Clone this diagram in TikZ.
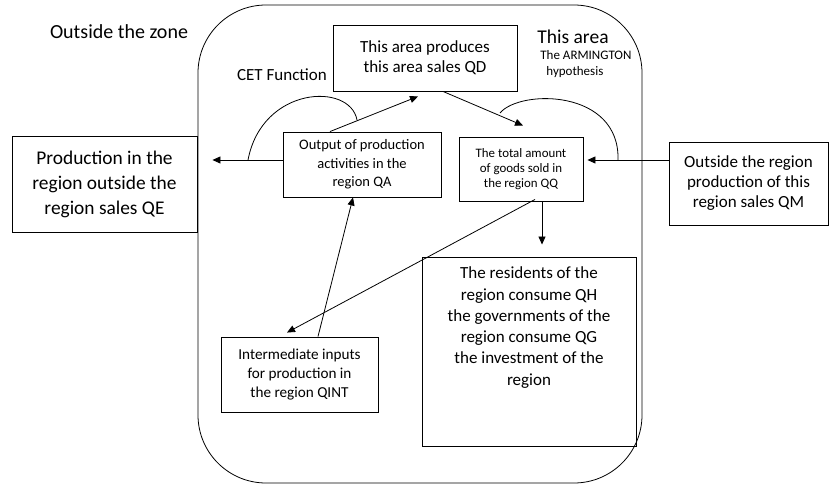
\documentclass[tikz,border=0pt]{standalone}
\usepackage{fontspec}
\setmainfont{Carlito}
\usetikzlibrary{positioning, arrows.meta}

\begin{document}
\begin{tikzpicture}[x=1pt, y=1pt, line width=0.8pt, >={Triangle[length=8pt,width=7pt]},
  box/.style={draw, line width=0.9pt, inner sep=0pt, align=center}]
  \useasboundingbox (0,0) rectangle (829,484);
  % the zone
  \draw[rounded corners=68pt] (198,1) rectangle (642,479);

  \node (zone) at (119,452) [font=\fontsize{20}{22}\selectfont] {Outside the zone};
  \node[box, minimum width=184pt, minimum height=66pt, font=\fontsize{17}{20}\selectfont] (qd) at (425,426) {This area produces\\this area sales QD};
  \node (area) at (573,447) [inner sep=0pt, font=\fontsize{19.5}{22}\selectfont] {This area};
  \node[anchor=west, align=left, inner sep=0pt, font=\fontsize{13}{16}\selectfont] (arm) at (540,420) {The ARMINGTON\\\hspace*{6pt}hypothesis};
  \node (cet) at (282,409) [font=\fontsize{17}{19}\selectfont] {CET Function};

  \node[box, minimum width=158pt, minimum height=65pt, font=\fontsize{14.5}{18.5}\selectfont] (qa) at (362,319.5) {Output of production\\activities in the\\region QA};
  \node[box, minimum width=124pt, minimum height=64pt, font=\fontsize{12.9}{15}\selectfont] (qq) at (521,315) {The total amount\\of goods sold in\\the region QQ};
  \node[box, minimum width=185pt, minimum height=96pt, font=\fontsize{19.4}{25}\selectfont] (qe) at (104.5,300) {Production in the\\region outside the\\region sales QE};
  \node[box, minimum width=159pt, minimum height=83pt, font=\fontsize{17}{20}\selectfont] (qm) at (748.5,300.5) {Outside the region\\production of this\\region sales QM};

  \node[box, minimum width=214pt, minimum height=189pt] (cons) at (529,132.5) {};
  \node[below=10pt of cons.north, align=center, inner sep=0pt, font=\fontsize{17}{21.3}\selectfont] (constext) {The residents of the\\region consume QH\\the governments of the\\region consume QG\\the investment of the\\region};
  \node[box, minimum width=157pt, minimum height=75pt, font=\fontsize{15.2}{19}\selectfont] (qint) at (299.5,109.5) {Intermediate inputs\\for production in\\the region QINT};

  % ends of the two arcs
  \coordinate (cetl) at (248,324);
  \coordinate (cetr) at (357,364);
  \coordinate (arml) at (500,371);
  \coordinate (armr) at (618,324);

  \path[->]
    ([xshift=-32pt]qa.north) edge ([xshift=-7pt,yshift=-5pt]qd.south)
    ([xshift=18pt]qd.south) edge ([xshift=2pt,yshift=11pt]qq.north)
    ([yshift=4.5pt]qa.west) edge ([xshift=15pt,yshift=24pt]qe.east)
    ([yshift=23.5pt]qm.west) edge ([xshift=4pt,yshift=9pt]qq.east)
    ([xshift=21pt]qq.south) edge ([xshift=13pt,yshift=12pt]cons.north)
    ([xshift=14pt,yshift=2pt]qq.south) edge ([xshift=-12.5pt,yshift=4pt]qint.north)
    ([xshift=18.5pt]qint.north) edge ([xshift=-9pt]qa.south);

  \draw (cetl) .. controls (262,398) and (350,402) .. (cetr);
  \draw (arml) .. controls (520,395) and (620,395) .. (armr);
\end{tikzpicture}
\end{document}
